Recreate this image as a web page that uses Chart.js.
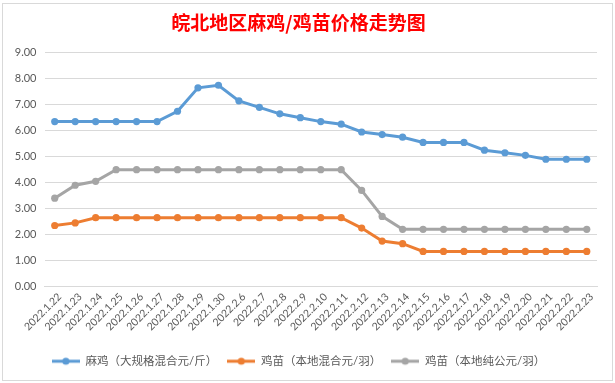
<!DOCTYPE html>
<html>
<head>
<meta charset="utf-8">
<script src="https://cdn.jsdelivr.net/npm/chart.js@4/dist/chart.umd.min.js"></script>
<style>
  html, body { margin: 0; padding: 0; background: #ffffff; }
  #wrap { position: absolute; left: 0; top: 0; width: 615px; height: 383px; }
  #frame { position: absolute; left: 2px; top: 3px; width: 609px; height: 376px; border: 1px solid #d9d9d9; pointer-events: none; }
</style>
</head>
<body>
<div id="wrap"><canvas id="c" width="615" height="383"></canvas></div>
<div id="frame"></div>
<script>
const categories = ['2022.1.22','2022.1.23','2022.1.24','2022.1.25','2022.1.26','2022.1.27','2022.1.28','2022.1.29','2022.1.30',
  '2022.2.6','2022.2.7','2022.2.8','2022.2.9','2022.2.10','2022.2.11','2022.2.12','2022.2.13','2022.2.14','2022.2.15',
  '2022.2.16','2022.2.17','2022.2.18','2022.2.19','2022.2.20','2022.2.21','2022.2.22','2022.2.23'];
const seriesNames = ['麻鸡（大规格混合元/斤）','鸡苗（本地混合元/羽）','鸡苗（本地纯公元/羽）'];
const maji = [6.35,6.35,6.35,6.35,6.35,6.35,6.75,7.65,7.75,7.15,6.9,6.65,6.5,6.35,6.25,5.95,5.85,5.75,5.55,5.55,5.55,5.25,5.15,5.05,4.9,4.9,4.9];
const jimiaoMix = [2.35,2.45,2.65,2.65,2.65,2.65,2.65,2.65,2.65,2.65,2.65,2.65,2.65,2.65,2.65,2.25,1.75,1.65,1.35,1.35,1.35,1.35,1.35,1.35,1.35,1.35,1.35];
const jimiaoMale = [3.4,3.9,4.05,4.5,4.5,4.5,4.5,4.5,4.5,4.5,4.5,4.5,4.5,4.5,4.5,3.7,2.7,2.2,2.2,2.2,2.2,2.2,2.2,2.2,2.2,2.2,2.2];
const yTicks = [0,1,2,3,4,5,6,7,8,9];
const titleText = '皖北地区麻鸡/鸡苗价格走势图';

const colors = ['#5B9BD5','#ED7D31','#A5A5A5'];
const FONT = "Lato, 'Noto Sans CJK SC', sans-serif";

function legendIcon(color) {
  const cv = document.createElement('canvas');
  cv.width = 28; cv.height = 10;
  const g = cv.getContext('2d');
  g.strokeStyle = color; g.lineWidth = 3; g.lineCap = 'butt';
  g.beginPath(); g.moveTo(0, 5); g.lineTo(28, 5); g.stroke();
  g.fillStyle = color;
  g.beginPath(); g.arc(14, 5, 3.6, 0, Math.PI * 2); g.fill();
  return cv;
}
const icons = colors.map(legendIcon);

const allSeries = [maji, jimiaoMix, jimiaoMale];
const datasets = allSeries.map((d, i) => ({
  label: seriesNames[i],
  data: d,
  borderColor: colors[i],
  backgroundColor: colors[i],
  borderWidth: 3,
  pointRadius: 3.6,
  pointHoverRadius: 3.6,
  pointBorderWidth: 0,
  pointBackgroundColor: colors[i],
  tension: 0,
  fill: false
}));

new Chart(document.getElementById('c'), {
  type: 'line',
  data: { labels: categories, datasets },
  options: {
    responsive: false,
    animation: false,
    devicePixelRatio: 1,
    layout: { padding: { left: 0, right: 18, top: 0, bottom: 6 } },
    plugins: {
      title: {
        display: true,
        text: titleText,
        color: '#FF0000',
        font: { family: "'Noto Sans CJK SC', sans-serif", size: 19, weight: 'bold' },
        padding: { top: 11, bottom: 19 }
      },
      legend: {
        position: 'bottom',
        labels: {
          usePointStyle: true,
          pointStyleWidth: 28,
          padding: 10,
          color: '#595959',
          font: { family: FONT, size: 11.5 },
          generateLabels(chart) {
            return chart.data.datasets.map((ds, i) => ({
              text: ds.label,
              fillStyle: colors[i],
              strokeStyle: colors[i],
              lineWidth: 0,
              pointStyle: icons[i],
              fontColor: '#595959',
              hidden: false,
              datasetIndex: i
            }));
          }
        }
      },
      tooltip: { enabled: false }
    },
    scales: {
      x: {
        offset: true,
        grid: { display: false, drawTicks: false },
        border: { display: true, color: '#D9D9D9' },
        ticks: {
          minRotation: 45, maxRotation: 45, autoSkip: false,
          color: '#595959', padding: 4, labelOffset: 5,
          font: { family: FONT, size: 10.5 }
        },
        afterFit(scale) { scale.height = 59; }
      },
      y: {
        min: 0, max: 9,
        afterBuildTicks(scale) { scale.ticks = yTicks.map(v => ({ value: v })); },
        grid: { color: '#D9D9D9', lineWidth: 1, drawTicks: false },
        border: { display: false },
        ticks: {
          color: '#595959', padding: 8,
          font: { family: FONT, size: 11 },
          callback: v => Number(v).toFixed(2)
        },
        afterFit(scale) { scale.width = 44.5; }
      }
    }
  }
});
</script>
</body>
</html>
